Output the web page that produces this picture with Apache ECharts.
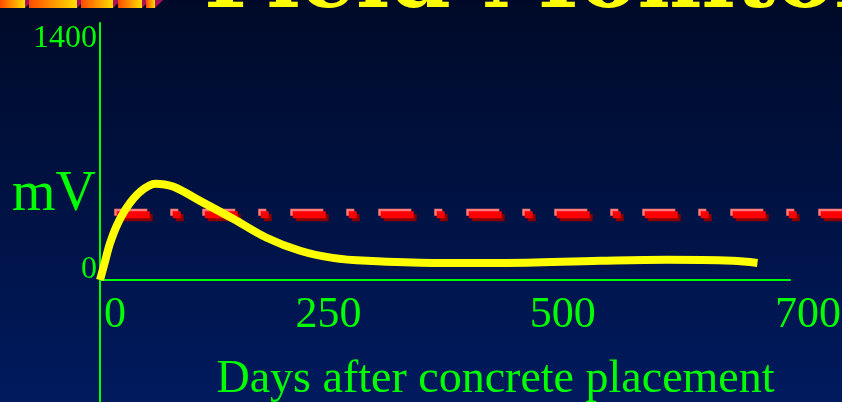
<!DOCTYPE html>
<html>
<head>
<meta charset="utf-8">
<script src="https://cdn.jsdelivr.net/npm/echarts@6/dist/echarts.min.js"></script>
<style>
  html, body { margin: 0; padding: 0; background: #000a28; }
  #chart { width: 842px; height: 402px; }
</style>
</head>
<body>
<div id="chart"></div>
<script>
// days after concrete placement
const days = [0, 5, 10, 17, 27, 41, 56, 74, 101, 135, 169, 203, 236, 271, 338, 406, 507, 575, 642, 667]
// half-cell reading, mV
const mv = [0, 110, 219, 329, 438, 536, 584, 566, 481, 371, 256, 177, 134, 116, 103, 103, 116, 122, 116, 103]
// threshold (red dash-dot line)
const limitMv = 395
const limitDays = [17, 790]
const xTicks = [0, 250, 500, 700]
const yTicks = [0, 1400]
const titleText = 'Field Monitoring'
const xName = 'Days after concrete placement'
const yName = 'mV'

// layout
const W = 842, H = 402
const axisX = 100, axisEnd = 790
const zeroY = 280, topTickY = 49, lineTop = 23
const green = '#00ff00'
const serif = '"Liberation Serif", "Times New Roman", serif'

const xMax = xTicks[xTicks.length - 1]
const yTop = yTicks[yTicks.length - 1]
const pxPerDay = (axisEnd - axisX) / xMax
const pxPerMv = (zeroY - topTickY) / yTop
const yMax = (zeroY - lineTop) / pxPerMv
const yMin = -(H - zeroY) / pxPerMv
const layerWidth = W - axisX + 40

// the slide's tick labels are nudged off their ticks
const xLabelShift = { 0: 15, 250: -18, 500: -30, 700: 18 }
const rich = {}
xTicks.forEach((t, i) => {
  const s = xLabelShift[t]
  rich['s' + i] = {
    color: green, fontFamily: serif, fontSize: 44,
    padding: s > 0 ? [0, 0, 0, 2 * s] : [0, -2 * s, 0, 0]
  }
})

// extra grids share the main scale but reach past the plot (red line, long y axis line)
function layerGrid(dx, dy) {
  return {
    left: axisX + dx, top: lineTop + dy, width: layerWidth, height: H - lineTop,
    outerBoundsMode: 'none'
  }
}
function hiddenX(i) {
  return { type: 'value', gridIndex: i, min: 0, max: layerWidth / pxPerDay, show: false }
}
function hiddenY(i) {
  return { type: 'value', gridIndex: i, min: yMin, max: yMax, show: false }
}
function limitSeries(i, color, z) {
  return {
    type: 'line', xAxisIndex: i, yAxisIndex: i, z, silent: true, symbol: 'none',
    data: limitDays.map(d => [d, limitMv]),
    lineStyle: { color, width: 7, type: [33, 23, 8, 24], cap: 'butt' }
  }
}

const chart = echarts.init(document.getElementById('chart'), null, { renderer: 'canvas' })

const stripes = [[0, 25], [29, 77], [81, 113], [118, 142], [146, 155]]
const deco = []
stripes.forEach(([a, b]) => {
  deco.push({
    type: 'rect', shape: { x: a, y: 0, width: b - a, height: 8 },
    style: {
      fill: new echarts.graphic.LinearGradient(0, 0, 1, 0, [
        { offset: 0, color: '#ff4a00' }, { offset: 1, color: '#ffe000' }
      ])
    }
  })
  deco.push({
    type: 'polygon', shape: { points: [[b, 0], [b + 8, 0], [b, 8]] },
    style: { fill: '#b0105a' }
  })
})

const longY = hiddenY(3)
longY.show = true
longY.axisLine = { show: true, onZero: false, lineStyle: { color: green, width: 2 } }
longY.axisLabel = { show: false }
longY.axisTick = { show: false }
longY.splitLine = { show: false }

chart.setOption({
  animation: false,
  backgroundColor: {
    type: 'linear', x: 0, y: 0, x2: 0, y2: 1,
    colorStops: [{ offset: 0, color: '#000a28' }, { offset: 1, color: '#001a5e' }]
  },
  graphic: deco.concat([{
    type: 'text', z: 10,
    style: {
      text: titleText, x: 204, y: 28, textVerticalAlign: 'bottom',
      font: 'bold 88px "DejaVu Serif"', fill: '#ffff00',
      shadowColor: '#000000', shadowOffsetX: 9, shadowOffsetY: 8, shadowBlur: 0
    }
  }]),
  grid: [
    {
      left: axisX, top: topTickY, width: axisEnd - axisX, height: zeroY - topTickY,
      outerBoundsMode: 'none'
    },
    layerGrid(3, 3),
    layerGrid(-2.5, -2.5),
    layerGrid(0, 0)
  ],
  xAxis: [
    {
      type: 'value', gridIndex: 0, min: 0, max: xMax,
      name: xName, nameLocation: 'middle', nameGap: 77, nameMoveOverlap: false,
      nameTextStyle: { color: green, fontFamily: serif, fontSize: 46, padding: [0, 0, 0, 101] },
      axisLine: { onZero: false, lineStyle: { color: green, width: 2 } },
      axisTick: { show: false },
      splitLine: { show: false },
      axisLabel: {
        customValues: xTicks, margin: 13, color: green, fontFamily: serif, fontSize: 44,
        formatter: v => `{s${xTicks.indexOf(v)}|${v}}`, rich
      }
    },
    hiddenX(1), hiddenX(2), hiddenX(3)
  ],
  yAxis: [
    {
      type: 'value', gridIndex: 0, min: 0, max: yTop,
      name: yName, nameLocation: 'middle', nameRotate: 0, nameGap: 4, nameMoveOverlap: false,
      nameTextStyle: {
        color: green, fontFamily: serif, fontSize: 56,
        align: 'right', verticalAlign: 'top', lineHeight: 62
      },
      axisLine: { show: false },
      axisTick: { show: false },
      splitLine: { show: false },
      axisLabel: {
        customValues: yTicks, margin: 3, color: green, fontFamily: serif, fontSize: 32,
        lineHeight: 20, verticalAlign: 'bottom', formatter: v => String(v)
      }
    },
    hiddenY(1), hiddenY(2), longY
  ],
  series: [
    limitSeries(1, '#8a0000', 2),
    limitSeries(2, '#ff7a7a', 3),
    limitSeries(3, '#ff0000', 4),
    {
      type: 'line', xAxisIndex: 0, yAxisIndex: 0, z: 6, silent: true,
      data: days.map((d, i) => [d, mv[i]]),
      smooth: 0.35, symbol: 'none',
      lineStyle: { color: '#ffff00', width: 8 }
    }
  ]
})
</script>
</body>
</html>
